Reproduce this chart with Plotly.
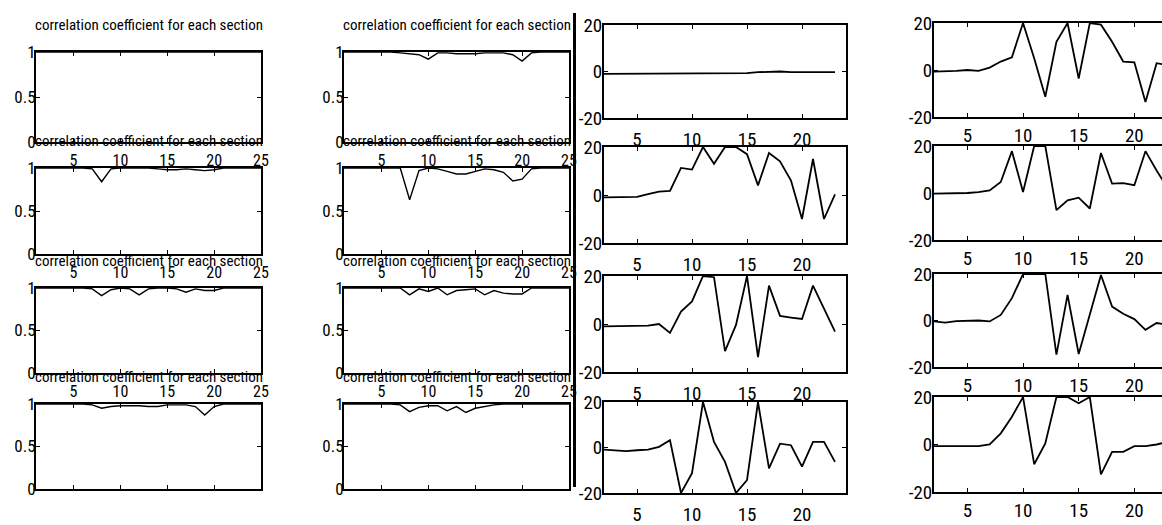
import plotly.graph_objects as go

W, H = 1162, 525

# section index for the correlation panels and for the shift panels
x_corr = list(range(1, 26))
x_shift = list(range(2, 24))

# correlation coefficient for each section (column 1, rows top->bottom)
corr_a1 = [1.0, 1.0, 1.0, 1.0, 1.0, 1.0, 1.0, 1.0, 1.0, 1.0, 1.0, 1.0, 1.0,
           1.0, 1.0, 1.0, 1.0, 1.0, 1.0, 1.0, 1.0, 1.0, 1.0, 1.0, 1.0]
corr_a2 = [1.0, 1.0, 1.0, 1.0, 1.0, 1.0, 0.99, 0.84, 0.99, 1.0, 1.0, 1.0, 1.0,
           0.99, 0.98, 0.98, 0.99, 0.98, 0.97, 0.98, 1.0, 1.0, 1.0, 1.0, 1.0]
corr_a3 = [1.0, 1.0, 1.0, 1.0, 1.0, 1.0, 0.99, 0.91, 0.98, 1.0, 0.99, 0.92, 0.99,
           1.0, 1.0, 0.99, 0.95, 0.99, 0.97, 0.97, 1.0, 1.0, 1.0, 1.0, 1.0]
corr_a4 = [1.0, 1.0, 1.0, 1.0, 1.0, 1.0, 0.99, 0.95, 0.97, 0.98, 0.98, 0.98, 0.97,
           0.97, 0.99, 0.99, 0.99, 0.97, 0.87, 0.97, 1.0, 1.0, 1.0, 1.0, 1.0]

# correlation coefficient for each section (column 2)
corr_b1 = [1.0, 1.0, 1.0, 1.0, 1.0, 1.0, 0.99, 0.98, 0.97, 0.92, 0.99, 0.99, 0.98,
           0.98, 0.98, 0.99, 0.99, 0.99, 0.97, 0.90, 0.99, 1.0, 1.0, 1.0, 1.0]
corr_b2 = [1.0, 1.0, 1.0, 1.0, 1.0, 1.0, 1.0, 0.63, 0.97, 1.0, 0.99, 0.96, 0.93,
           0.93, 0.96, 0.99, 0.98, 0.95, 0.85, 0.87, 0.99, 1.0, 1.0, 1.0, 1.0]
corr_b3 = [1.0, 1.0, 1.0, 1.0, 1.0, 1.0, 1.0, 0.92, 0.99, 0.96, 1.0, 0.92, 0.97,
           0.98, 0.99, 0.92, 0.97, 0.94, 0.93, 0.93, 1.0, 1.0, 1.0, 1.0, 1.0]
corr_b4 = [1.0, 1.0, 1.0, 1.0, 1.0, 1.0, 0.99, 0.91, 0.96, 0.98, 0.98, 0.92, 0.97,
           0.90, 0.95, 0.97, 0.99, 1.0, 1.0, 1.0, 1.0, 1.0, 1.0, 1.0, 1.0]

# shift per section (column 3)
shift_c1 = [-1.0, -1.0, -1.0, -1.0, -1.0, -1.0, -1.0, -1.0, -1.0, -0.7, -0.7,
            -0.7, -0.7, -0.7, -0.3, -0.2, 0.0, -0.3, -0.3, -0.3, -0.3, -0.3]
shift_c2 = [-1.0, -1.0, -1.0, -0.8, 0.4, 1.4, 1.7, 11.3, 10.6, 20.0, 13.0,
            20.0, 20.0, 17.0, 4.0, 17.5, 14.0, 6.0, -10.0, 15.0, -10.0, 0.3]
shift_c3 = [-1.0, -1.0, -1.0, -1.0, -0.7, 0.0, -3.7, 5.2, 9.4, 20.0, 19.5,
            -11.3, -0.4, 20.0, -13.8, 16.0, 3.4, 2.7, 2.1, 16.0, 6.6, -3.2]
shift_c4 = [-0.9, -1.2, -1.6, -1.2, -0.9, 0.3, 3.2, -20.0, -11.3, 20.0, 2.5,
            -6.3, -20.0, -14.3, 20.0, -9.2, 1.7, 1.0, -8.4, 2.5, 2.5, -6.3]

# shift per section (column 4)
shift_d1 = [-0.7, -0.7, -0.4, 0.0, -0.4, 1.0, 3.6, 5.4, 20.0, 5.0, -11.4,
            12.0, 20.0, -3.6, 20.0, 19.3, 12.0, 3.6, 3.3, -13.6, 2.9, 2.0]
shift_d2 = [-0.3, -0.3, -0.2, 0.0, 0.4, 1.1, 4.7, 17.8, 0.4, 20.0, 20.0,
            -7.3, -3.1, -2.0, -6.6, 17.0, 4.0, 4.2, 3.3, 17.8, 9.6, 2.0]
shift_d3 = [-0.4, -0.9, -0.3, 0.0, 0.0, -0.4, 2.4, 9.6, 20.0, 20.0, 20.0,
            -14.7, 11.0, -14.4, 3.1, 19.6, 6.0, 2.9, 0.6, -4.0, -1.1, -1.9]
shift_d4 = [-0.7, -0.7, -0.7, -0.7, -0.7, 0.0, 4.7, 11.7, 20.0, -8.3, 0.4,
            20.0, 20.0, 17.4, 20.0, -12.6, -3.1, -3.1, -0.7, -0.7, 0.0, 1.1]

corr_ticks = [5, 10, 15, 20, 25]
shift_ticks = [5, 10, 15, 20]
corr_yticks = [0, 0.5, 1]
corr_ytext = ["0", "0.5", "1"]
shift_yticks = [-20, 0, 20]
shift_ytext = ["-20", "0", "20"]
panel_title = "correlation coefficient for each section"

# pixel boxes of each panel column (left, right) and rows (top, bottom)
col_x = [(36, 261), (344, 569), (604, 846), (934, 1162)]
rows_corr = [(52, 142), (168, 254), (288, 373), (404, 489)]
rows_c3 = [(25, 118), (147, 243), (276, 372), (402, 493)]
rows_c4 = [(23, 117), (146, 240), (274, 367), (397, 492)]

columns = [
    dict(series=[corr_a1, corr_a2, corr_a3, corr_a4], x=x_corr, rows=rows_corr,
         xr=[1, 25], yr=[0, 1], xt=corr_ticks, yt=corr_yticks, ytt=corr_ytext,
         title=True, right=True, lw=1.4, xstand=3, ystand=-5, xfs=16, yfs=17),
    dict(series=[corr_b1, corr_b2, corr_b3, corr_b4], x=x_corr, rows=rows_corr,
         xr=[1, 25], yr=[0, 1], xt=corr_ticks, yt=corr_yticks, ytt=corr_ytext,
         title=True, right=True, lw=1.4, xstand=3, ystand=-5, xfs=16, yfs=17),
    dict(series=[shift_c1, shift_c2, shift_c3, shift_c4], x=x_shift, rows=rows_c3,
         xr=[2, 24], yr=[-20, 20], xt=shift_ticks, yt=shift_yticks, ytt=shift_ytext,
         title=False, right=True, lw=1.8, xstand=3, ystand=-4, xfs=19, yfs=19),
    dict(series=[shift_d1, shift_d2, shift_d3, shift_d4], x=x_shift, rows=rows_c4,
         xr=[2, 2 + 228 / 11.13], yr=[-20, 20], xt=shift_ticks, yt=shift_yticks,
         ytt=shift_ytext, title=False, right=False, lw=1.8, xstand=0, ystand=-4,
         xfs=19, yfs=19),
]

FONT = "Roboto Condensed, Liberation Sans Narrow, sans-serif"

fig = go.Figure()
layout = {}
annotations = []
k = 0
for ci, col in enumerate(columns):
    x0, x1 = col_x[ci]
    for ri, ys in enumerate(col["series"]):
        k += 1
        sfx = "" if k == 1 else str(k)
        top, bot = col["rows"][ri]
        fig.add_trace(go.Scatter(
            x=col["x"], y=ys, mode="lines",
            line=dict(color="black", width=col["lw"]),
            xaxis="x" + sfx, yaxis="y" + sfx, showlegend=False,
            hoverinfo="skip"))
        show_x = not (col["title"] and ri == 3)
        layout["xaxis" + sfx] = dict(
            domain=[x0 / W, x1 / W], anchor="y" + sfx, range=col["xr"],
            tickmode="array", tickvals=col["xt"], ticktext=[str(v) for v in col["xt"]],
            ticks="inside", ticklen=4, tickwidth=1, tickcolor="black",
            showline=True, linecolor="black", linewidth=2,
            mirror="ticks", showgrid=False, zeroline=False, automargin=False,
            showticklabels=show_x, ticklabelstandoff=col["xstand"],
            tickfont=dict(family=FONT, size=col["xfs"], color="black"))
        layout["yaxis" + sfx] = dict(
            domain=[1 - bot / H, 1 - top / H], anchor="x" + sfx, range=col["yr"],
            tickmode="array", tickvals=col["yt"], ticktext=col["ytt"],
            ticks="inside", ticklen=4, tickwidth=1, tickcolor="black",
            showline=True, linecolor="black", linewidth=2,
            mirror="ticks" if col["right"] else False, automargin=False,
            showgrid=False, zeroline=False, ticklabelstandoff=col["ystand"],
            tickfont=dict(family=FONT, size=col["yfs"], color="black"))
        if col["title"]:
            annotations.append(dict(
                text=panel_title, xref="x" + sfx + " domain", yref="y" + sfx + " domain",
                x=0.5, y=1, xanchor="center", yanchor="middle", yshift=27,
                showarrow=False, font=dict(family=FONT, size=15, color="black")))

layout["annotations"] = annotations
layout["shapes"] = [dict(type="line", xref="paper", yref="paper",
                         x0=574.5 / W, x1=574.5 / W, y0=1 - 13 / H, y1=1 - 487 / H,
                         line=dict(color="black", width=3))]
fig.update_layout(**layout)
fig.update_layout(width=W, height=H, autosize=False,
                  margin=dict(l=0, r=0, t=0, b=0, pad=0),
                  paper_bgcolor="white", plot_bgcolor="white",
                  font=dict(family=FONT, color="black"))
fig.write_html("out.html")
